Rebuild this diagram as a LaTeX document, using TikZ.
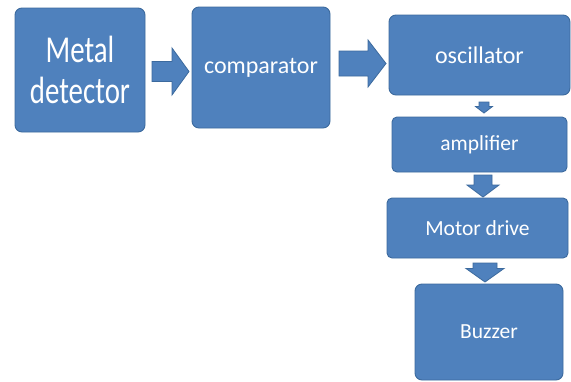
\documentclass[tikz,border=0pt]{standalone}
\usepackage{fontspec}
\setmainfont{Carlito}
\definecolor{boxfill}{HTML}{4F81BD}
\definecolor{boxline}{HTML}{3C6A9E}
\newcommand{\harrow}[6]{% x0 xbase xtip ycenter shafthalf headhalf
  \fill[boxfill,draw=boxline,line width=0.8pt,line join=miter]
    (#1,#4-#5) -- (#2,#4-#5) -- (#2,#4-#6) -- (#3,#4) -- (#2,#4+#6) -- (#2,#4+#5) -- (#1,#4+#5) -- cycle;}
\newcommand{\varrow}[6]{% y0 ybase ytip xcenter shafthalf headhalf
  \fill[boxfill,draw=boxline,line width=0.8pt,line join=miter]
    (#4-#5,#1) -- (#4-#5,#2) -- (#4-#6,#2) -- (#4,#3) -- (#4+#6,#2) -- (#4+#5,#2) -- (#4+#5,#1) -- cycle;}
\begin{document}
\begin{tikzpicture}[x=1pt,y=-1pt,
  blk/.style={fill=boxfill,draw=boxline,line width=0.9pt,rounded corners=7pt,
    text=white,align=center,inner sep=0pt,anchor=center}]
\useasboundingbox[fill=white] (0,0) rectangle (571,381);
\node[blk,minimum width=130pt,minimum height=124pt,font=\fontsize{38}{41}\selectfont] (md) at (80,70)
  {\scalebox{0.76}[1]{Metal}\\\scalebox{0.76}[1]{detector}};
\node[blk,minimum width=138pt,minimum height=121pt,font=\fontsize{24}{28}\selectfont] (cmp) at (261,67.5)
  {comparator};
\node[blk,minimum width=181pt,minimum height=80pt,font=\fontsize{24}{28}\selectfont] (osc) at (479.5,55)
  {oscillator};
\node[blk,rounded corners=5pt,minimum width=175pt,minimum height=55pt,font=\fontsize{21.5}{26}\selectfont] (amp) at (479.5,144.5)
  {amplifier};
\node[blk,rounded corners=5pt,minimum width=181pt,minimum height=60pt,font=\fontsize{21.5}{26}\selectfont] (mot) at (477.5,228)
  {Motor drive};
\node[blk,minimum width=148pt,minimum height=96pt,font=\fontsize{21.5}{26}\selectfont] (buz) at (489,332)
  {Buzzer};
\harrow{152}{172}{189}{71.5}{10}{23.5}
\harrow{339}{368}{386}{63.5}{12.5}{23.5}
\varrow{102}{106.5}{113}{484}{5}{8.5}
\varrow{175}{185}{197}{483}{9}{16}
\varrow{263}{268.5}{282}{485}{12}{19}
\end{tikzpicture}
\end{document}
